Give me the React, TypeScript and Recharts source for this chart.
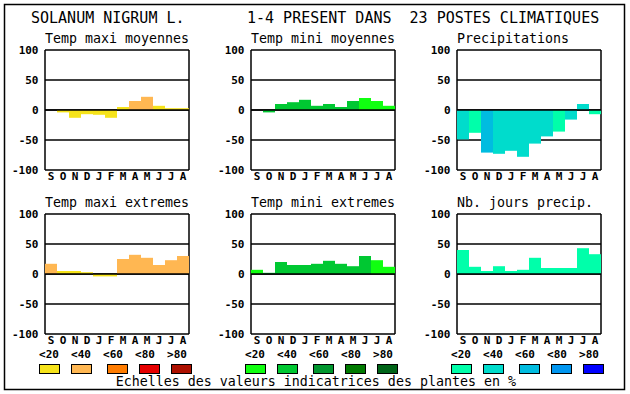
import React from 'react';
import { BarChart, Bar, XAxis, YAxis, CartesianGrid, ReferenceLine, Cell } from 'recharts';

// ---- data ----
const MONTHS = ['Sep', 'Oct', 'Nov', 'Dec', 'Jan', 'Feb', 'Mar', 'Apr', 'May', 'Jun', 'Jul', 'Aug'];
const MONTH_TICKS = ['S', 'O', 'N', 'D', 'J', 'F', 'M', 'A', 'M', 'J', 'J', 'A'];
const Y_TICKS = [-100, -50, 0, 50, 100];
const SCALE_LABELS = ['<20', '<40', '<60', '<80', '>80'];

const MAXI_COLORS = ['#f6e31a', '#ffb752', '#ff7c00', '#e60000', '#ad1000'];
const MINI_COLORS = ['#10ff10', '#00c832', '#00962e', '#007a00', '#006418'];
const PRECIP_COLORS = ['#00ffaa', '#00dccc', '#00bce0', '#0096f0', '#0000ff'];

const TITLE_LEFT = 'SOLANUM NIGRUM L.';
const TITLE_RIGHT = '1-4 PRESENT DANS  23 POSTES CLIMATIQUES';
const FOOTER = 'Echelles des valeurs indicatrices des plantes en %';

const tempMaxiMoy = [0, -4, -13, -7, -8, -13, 5, 15, 22, 7, 3, 3];
const tempMaxiMoyLvl = [0, 0, 0, 0, 0, 0, 0, 1, 1, 0, 0, 0];

const tempMiniMoy = [0, -4, 10, 13, 17, 7, 10, 5, 15, 20, 15, 7];
const tempMiniMoyLvl = [1, 1, 1, 1, 1, 1, 1, 1, 1, 0, 0, 0];

const precip = [-49, -38, -71, -73, -68, -78, -56, -44, -36, -16, 10, -7];
const precipLvl = [1, 0, 2, 1, 1, 1, 1, 1, 0, 1, 1, 0];

const tempMaxiExt = [17, 5, 5, 3, -4, -4, 25, 32, 27, 15, 23, 30];
const tempMaxiExtLvl = [1, 0, 0, 0, 0, 0, 1, 1, 1, 1, 1, 1];

const tempMiniExt = [7, 2, 20, 15, 15, 17, 22, 17, 13, 30, 23, 12];
const tempMiniExtLvl = [0, 1, 1, 1, 1, 1, 1, 1, 1, 1, 0, 0];

const joursPrecip = [40, 12, 5, 13, 5, 7, 27, 10, 10, 10, 43, 33];
const joursPrecipLvl = [0, 0, 0, 0, 0, 0, 0, 0, 0, 0, 0, 0];

// ---- layout ----
const FONT = '"DejaVu Sans Mono", "Liberation Mono", monospace';
const COLS = [45, 251, 457];
const ROWS = [50, 214];
const PLOT_W = 144;
const PLOT_H = 120;
const M_TOP = 10;
const Y_W = 45;
const LINE_W = 1.5;

type PanelProps = {
  title: string;
  values: number[];
  levels: number[];
  palette: string[];
  plotLeft: number;
  plotTop: number;
  legend: boolean;
};

function Panel({ title, values, levels, palette, plotLeft, plotTop }: PanelProps) {
  const data = MONTHS.map((m, i) => ({ m, v: values[i], lvl: levels[i] }));
  const chartW = Y_W + PLOT_W + 11;
  const chartH = M_TOP + PLOT_H + 20;
  const xTick = (p: any) => {
    const idx = MONTHS.indexOf(p.payload.value);
    return (
      <text x={p.x} y={M_TOP + PLOT_H + 10} textAnchor="middle" fontFamily={FONT} fontWeight="bold" fontSize={11} fill="#000">
        {MONTH_TICKS[idx]}
      </text>
    );
  };
  const yTick = (p: any) => (
    <text x={Y_W - 6.5} y={p.y + 4} textAnchor="end" fontFamily={FONT} fontWeight="bold" fontSize={11} fill="#000">
      {p.payload.value}
    </text>
  );
  return (
    <div style={{ position: 'absolute', left: plotLeft - Y_W, top: plotTop - M_TOP, width: chartW, height: chartH }}>
      <BarChart
        width={chartW}
        height={chartH}
        data={data}
        margin={{ top: M_TOP, right: 11, bottom: 0, left: 0 }}
        barCategoryGap={0}
        barGap={0}
      >
        <CartesianGrid stroke="#000" strokeWidth={LINE_W} verticalPoints={[Y_W, Y_W + PLOT_W]} />
        <XAxis dataKey="m" interval={0} height={20} tickLine={false} axisLine={false} tick={xTick} />
        <YAxis domain={[-100, 100]} ticks={Y_TICKS} width={Y_W} tickLine={false} axisLine={false} tick={yTick} interval={0} />
        <Bar dataKey="v" isAnimationActive={false}>
          {data.map((d, i) => (
            <Cell key={i} fill={palette[d.lvl]} />
          ))}
        </Bar>
        <ReferenceLine y={0} stroke="#000" strokeWidth={LINE_W} />
      </BarChart>
    </div>
  );
}

const PANELS = [
  { title: 'Temp maxi moyennes', values: tempMaxiMoy, levels: tempMaxiMoyLvl, palette: MAXI_COLORS, col: 0, row: 0 },
  { title: 'Temp mini moyennes', values: tempMiniMoy, levels: tempMiniMoyLvl, palette: MINI_COLORS, col: 1, row: 0 },
  { title: 'Precipitations', values: precip, levels: precipLvl, palette: PRECIP_COLORS, col: 2, row: 0 },
  { title: 'Temp maxi extremes', values: tempMaxiExt, levels: tempMaxiExtLvl, palette: MAXI_COLORS, col: 0, row: 1 },
  { title: 'Temp mini extremes', values: tempMiniExt, levels: tempMiniExtLvl, palette: MINI_COLORS, col: 1, row: 1 },
  { title: 'Nb. jours precip.', values: joursPrecip, levels: joursPrecipLvl, palette: PRECIP_COLORS, col: 2, row: 1 },
];

const LEGEND_PALETTES = [MAXI_COLORS, MINI_COLORS, PRECIP_COLORS];
const LABEL_OFFS = [4, 36, 68, 100, 132];
const BOX_OFFS = [-6, 26, 62, 94, 126];

export default function App() {
  return (
    <div style={{ position: 'absolute', left: 0, top: 0, width: 630, height: 394, background: '#fff', overflow: 'hidden' }}>
      <svg width={630} height={394} style={{ position: 'absolute', left: 0, top: 0 }}>
        <rect x={4.5} y={4.5} width={620} height={385} fill="none" stroke="#000" strokeWidth={1.5} />
        <text x={31} y={23.3} fontFamily={FONT} fontSize={15} fill="#000">{TITLE_LEFT}</text>
        <text x={247} y={23.3} fontFamily={FONT} fontSize={15} fill="#000" style={{ whiteSpace: 'pre' }} xmlSpace="preserve">
          {TITLE_RIGHT}
        </text>
        {PANELS.map((p, i) => (
          <text key={i} x={COLS[p.col]} y={ROWS[p.row] - 6.7} fontFamily={FONT} fontSize={13.3} fill="#000">
            {p.title}
          </text>
        ))}
        {LEGEND_PALETTES.map((pal, c) => (
          <g key={c}>
            {SCALE_LABELS.map((lab, k) => (
              <text key={'l' + k} x={COLS[c] + LABEL_OFFS[k]} y={358} textAnchor="middle" fontFamily={FONT} fontWeight="bold" fontSize={11} fill="#000">
                {lab}
              </text>
            ))}
            {pal.map((col, k) => (
              <rect key={'b' + k} x={COLS[c] + BOX_OFFS[k] + 0.5} y={364.5} width={20} height={9} fill={col} stroke="#000" strokeWidth={1} />
            ))}
          </g>
        ))}
        <text x={115.7} y={386.3} fontFamily={FONT} fontSize={13.3} fill="#000">{FOOTER}</text>
      </svg>
      {PANELS.map((p, i) => (
        <Panel
          key={i}
          title={p.title}
          values={p.values}
          levels={p.levels}
          palette={p.palette}
          plotLeft={COLS[p.col]}
          plotTop={ROWS[p.row]}
          legend={p.row === 1}
        />
      ))}
    </div>
  );
}
